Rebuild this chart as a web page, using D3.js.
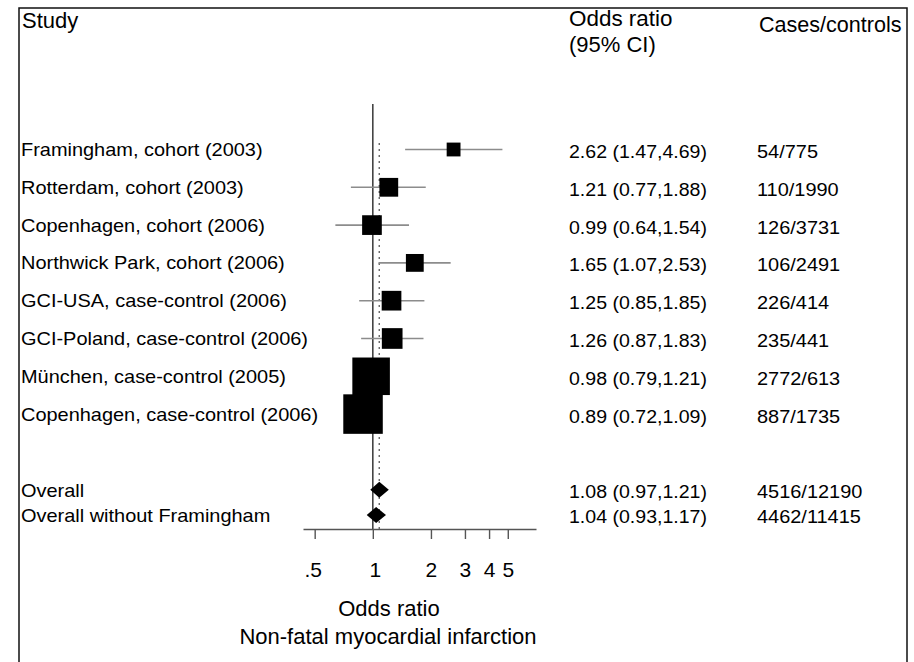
<!DOCTYPE html>
<html>
<head>
<meta charset="utf-8">
<script src="https://cdn.jsdelivr.net/npm/d3@7"></script>
<style>
  html, body { margin: 0; padding: 0; background: #fff; }
  svg { display: block; }
  text { font-family: "Liberation Sans", Arial, sans-serif; fill: #000; }
</style>
</head>
<body>
<svg id="chart" width="914" height="662"></svg>
<script>
// ---- data ----
const studies = [
  "Framingham, cohort (2003)",
  "Rotterdam, cohort (2003)",
  "Copenhagen, cohort (2006)",
  "Northwick Park, cohort (2006)",
  "GCI-USA, case-control (2006)",
  "GCI-Poland, case-control (2006)",
  "München, case-control (2005)",
  "Copenhagen, case-control (2006)"
];
const oddsRatio = [2.62, 1.21, 0.99, 1.65, 1.25, 1.26, 0.98, 0.89];
const ciLow     = [1.47, 0.77, 0.64, 1.07, 0.85, 0.87, 0.79, 0.72];
const ciHigh    = [4.69, 1.88, 1.54, 2.53, 1.85, 1.83, 1.21, 1.09];
const weights   = [3.8, 7.0, 7.7, 6.3, 7.7, 8.5, 28.0, 31.0];
const casesControls = ["54/775", "110/1990", "126/3731", "106/2491", "226/414", "235/441", "2772/613", "887/1735"];

const overallLabels = ["Overall", "Overall without Framingham"];
const overallOR   = [1.08, 1.04];
const overallLow  = [0.97, 0.93];
const overallHigh = [1.21, 1.17];
const overallCases = ["4516/12190", "4462/11415"];

const tickValues = [0.5, 1, 2, 3, 4, 5];
const tickLabels = [".5", "1", "2", "3", "4", "5"];

const headers = ["Study", "Odds ratio", "(95% CI)", "Cases/controls"];
const axisTitle = ["Odds ratio", "Non-fatal myocardial infarction"];

// ---- layout ----
const svg = d3.select("#chart");
const x = d3.scaleLog().domain([0.435, 7.0]).range([303, 536]);
const y = d3.scaleLinear().domain([0, 9.67]).range([149.5, 515]);
const studyPos = studies.map((d, i) => i);
const overallPos = [9.0, 9.67];
const side = d3.scaleSqrt().domain([0, 31]).range([0, 39.5]);
const axisY = 529;

const fmt = d3.format(".2f");
const ciText = (o, l, h) => `${fmt(o)} (${fmt(l)},${fmt(h)})`;

function addText(px, py, str, size, sx, anchor) {
  svg.append("text")
    .attr("transform", `translate(${px},${py}) scale(${sx},1)`)
    .attr("font-size", size)
    .attr("text-anchor", anchor || "start")
    .text(str);
}

// frame
svg.append("path")
  .attr("d", "M19,662 V8 H907 V662")
  .attr("fill", "none").attr("stroke", "#111").attr("stroke-width", 1.5);

// headers
addText(22, 28, headers[0], 22, 1.0);
addText(569, 26, headers[1], 22, 1.02);
addText(569, 52, headers[2], 22, 1.0);
addText(759, 32, headers[3], 22, 0.98);

// reference lines
svg.append("line")
  .attr("x1", x(1)).attr("x2", x(1))
  .attr("y1", 104).attr("y2", axisY)
  .attr("stroke", "#444").attr("stroke-width", 1.6);
svg.append("line")
  .attr("x1", x(overallOR[0])).attr("x2", x(overallOR[0]))
  .attr("y1", 143).attr("y2", axisY)
  .attr("stroke", "#666").attr("stroke-width", 1.4)
  .attr("stroke-dasharray", "2,4");

// CI lines
svg.selectAll("line.ci").data(studies).join("line")
  .attr("class", "ci")
  .attr("x1", (d, i) => x(ciLow[i])).attr("x2", (d, i) => x(ciHigh[i]))
  .attr("y1", (d, i) => y(studyPos[i])).attr("y2", (d, i) => y(studyPos[i]))
  .attr("stroke", "#8c8c8c").attr("stroke-width", 1.6);

// squares
svg.selectAll("rect.sq").data(studies).join("rect")
  .attr("class", "sq")
  .attr("x", (d, i) => x(oddsRatio[i]) - side(weights[i]) / 2)
  .attr("y", (d, i) => y(studyPos[i]) - side(weights[i]) / 2)
  .attr("width", (d, i) => side(weights[i]))
  .attr("height", (d, i) => side(weights[i]))
  .attr("fill", "#000");

// diamonds
svg.selectAll("path.dia").data(overallLabels).join("path")
  .attr("class", "dia")
  .attr("d", (d, i) => {
    const cy = y(overallPos[i]);
    return `M${x(overallLow[i])},${cy} L${x(overallOR[i])},${cy - 8} L${x(overallHigh[i])},${cy} L${x(overallOR[i])},${cy + 8} Z`;
  })
  .attr("fill", "#000");

// row texts
const fs = 19, sx = 1.05;
studies.forEach((s, i) => {
  const cy = y(studyPos[i]);
  addText(21, cy + 6.5, s, fs, sx);
  addText(569, cy + 8.5, ciText(oddsRatio[i], ciLow[i], ciHigh[i]), fs, sx * 0.98);
  addText(757, cy + 8.5, casesControls[i], fs, sx);
});
overallLabels.forEach((s, i) => {
  const cy = y(overallPos[i]);
  addText(21, cy + 7, s, fs, sx);
  addText(569, cy + 8, ciText(overallOR[i], overallLow[i], overallHigh[i]), fs, sx * 0.98);
  addText(757, cy + 8, overallCases[i], fs, sx);
});

// axis
const axis = d3.axisBottom(x).tickValues(tickValues)
  .tickFormat((d, i) => tickLabels[i]).tickSize(10).tickSizeOuter(0).tickPadding(27);
const gAxis = svg.append("g").attr("transform", `translate(0,${axisY})`).call(axis);
gAxis.select(".domain").attr("stroke", "#555").attr("stroke-width", 1.4);
gAxis.selectAll(".tick line").attr("stroke", "#555").attr("stroke-width", 1.4);
gAxis.selectAll(".tick text")
  .attr("font-size", 21)
  .attr("font-family", "Liberation Sans, Arial, sans-serif")
  .attr("fill", "#000")
  .attr("dy", "0")
  .attr("y", 48)
  .attr("dx", (d) => d === 1 ? 2 : (d === 0.5 ? -2 : 0));

// axis titles
addText(389, 616, axisTitle[0], 22, 1.0, "middle");
addText(388, 644, axisTitle[1], 22, 1.0, "middle");
</script>
</body>
</html>
